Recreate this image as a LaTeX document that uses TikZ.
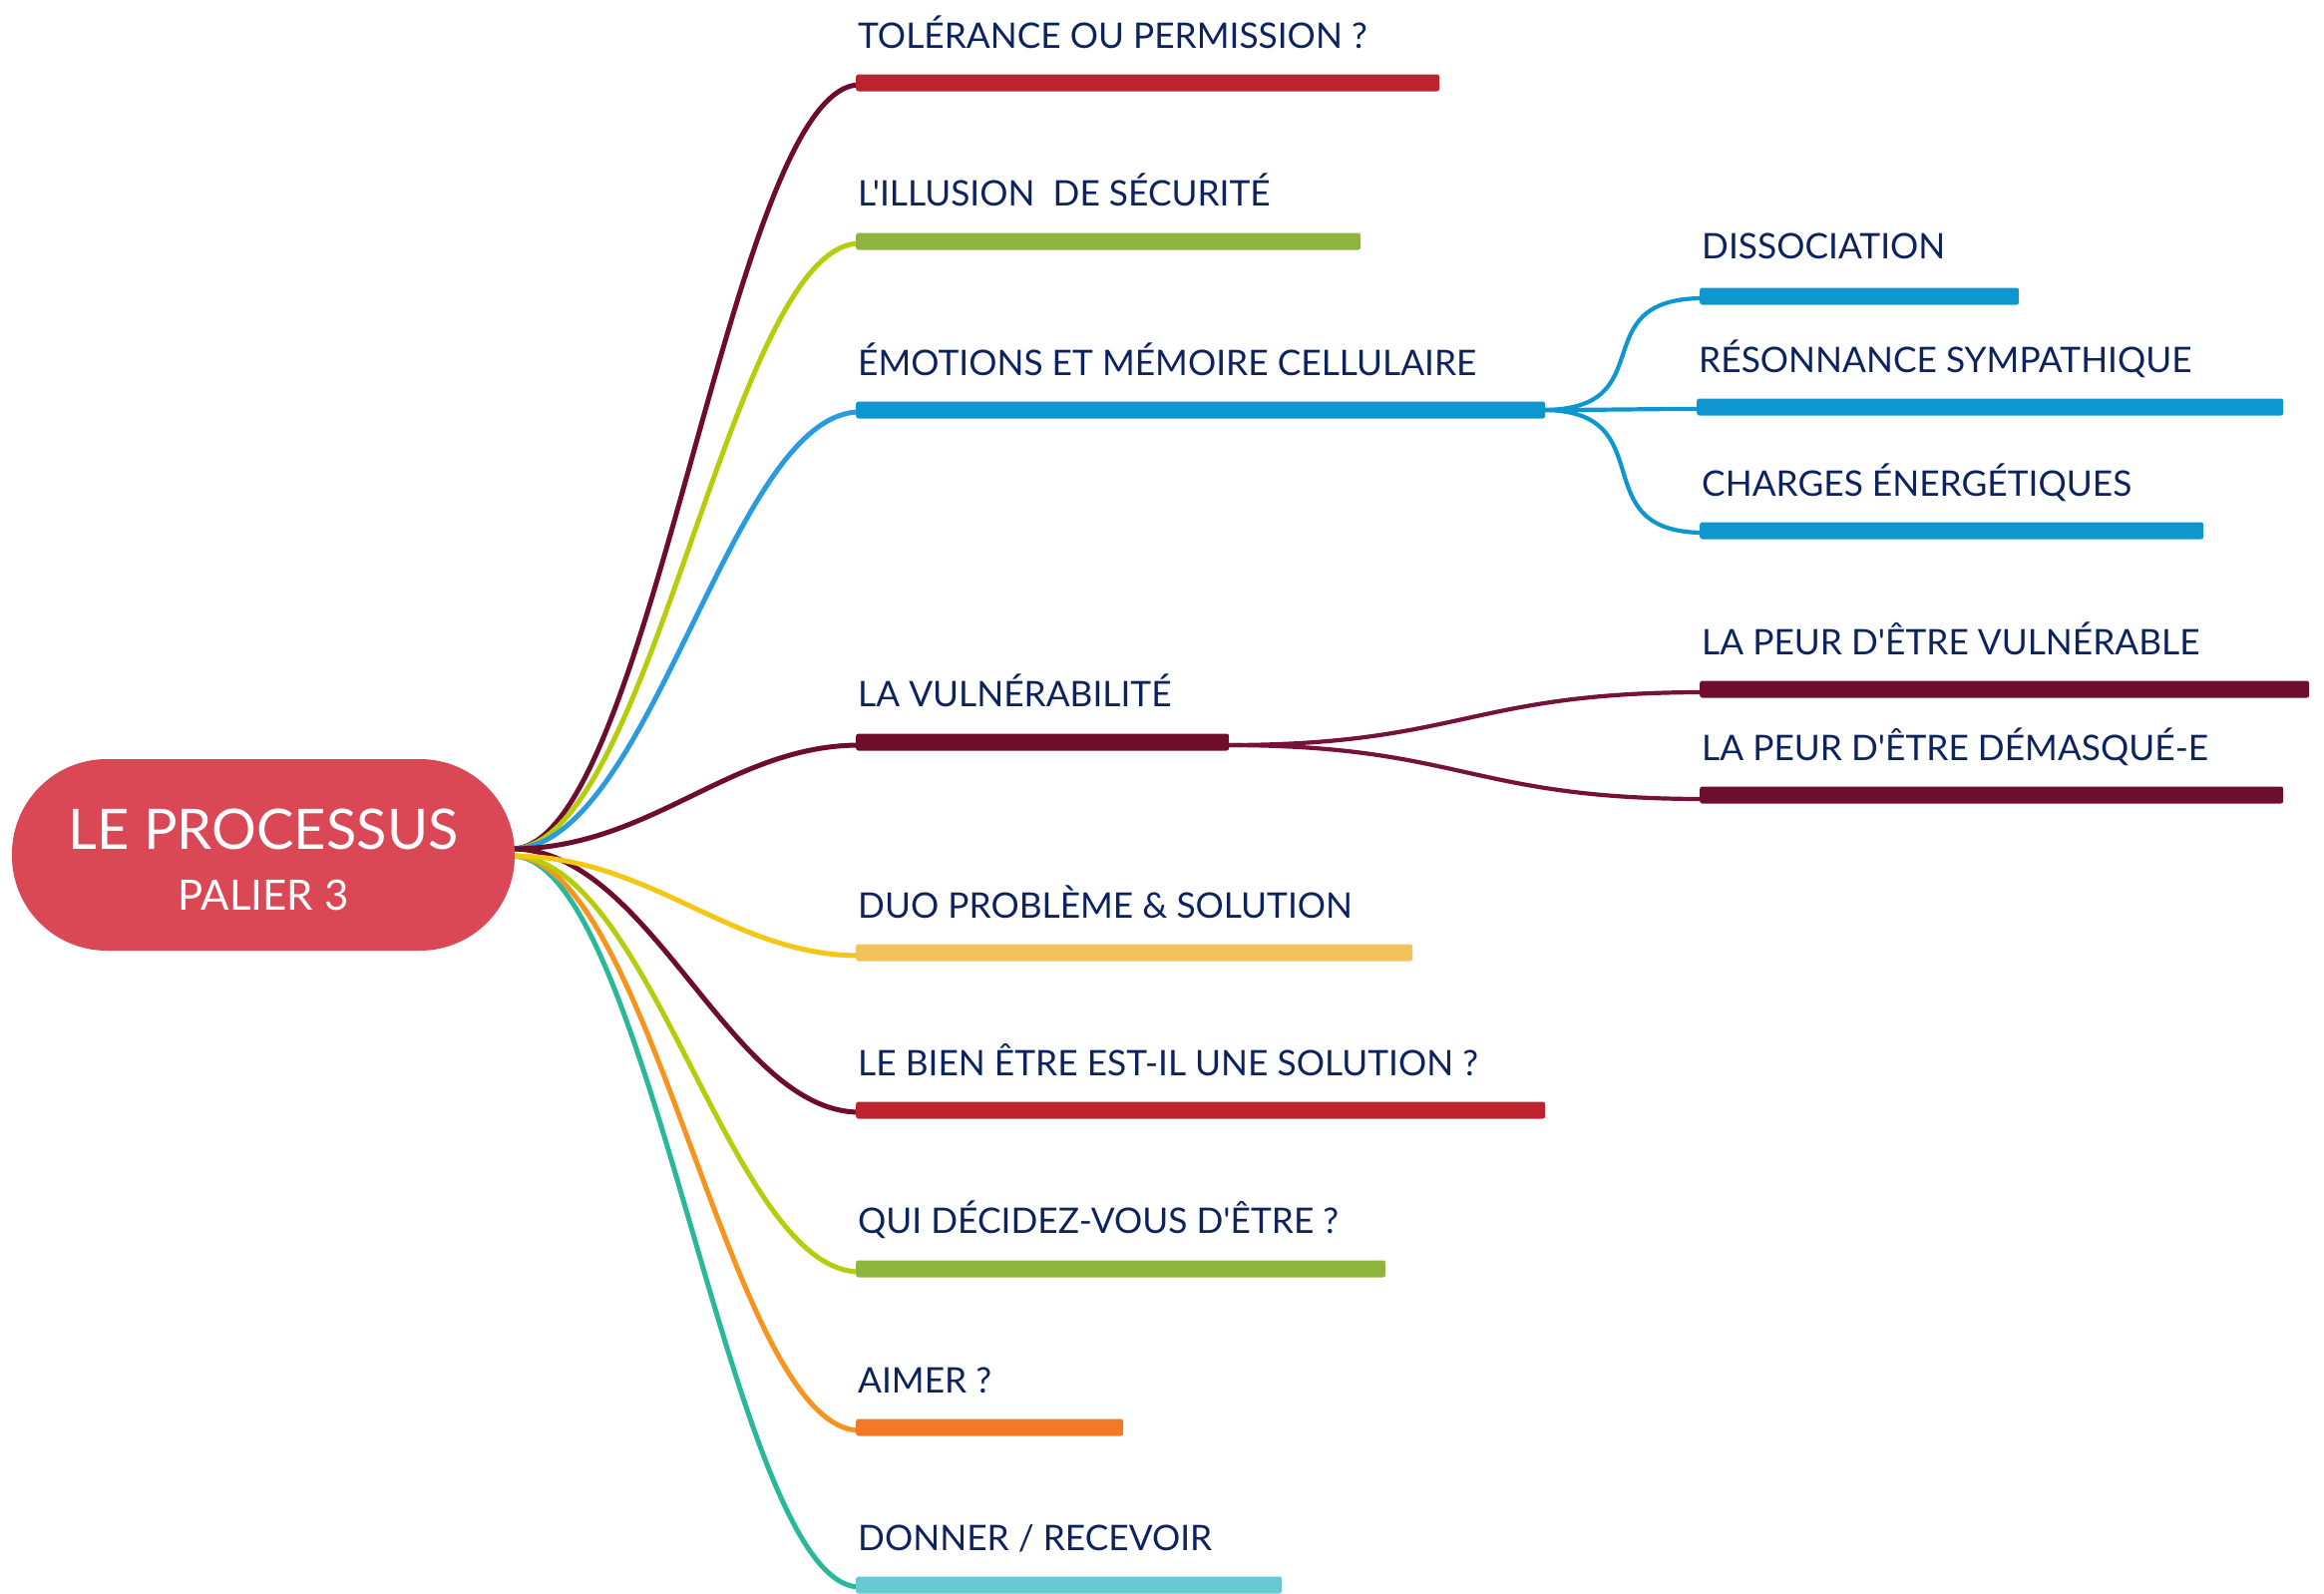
\documentclass[tikz,border=0pt]{standalone}
\usepackage{fontspec}
\newfontfamily\lato{Lato}
\usetikzlibrary{backgrounds}
\definecolor{navy}{HTML}{0D2360}
\definecolor{rootred}{HTML}{D94854}
\definecolor{cmaroon}{HTML}{6E0C2E}
\definecolor{csub}{HTML}{76113A}
\definecolor{clime}{HTML}{B5CD0B}
\definecolor{cblue}{HTML}{2B9BDF}
\definecolor{cyellow}{HTML}{F6C614}
\definecolor{corange}{HTML}{F8931E}
\definecolor{cteal}{HTML}{29B99A}
\definecolor{bred}{HTML}{BE2430}
\definecolor{bgreen}{HTML}{8FB53F}
\definecolor{bblue}{HTML}{0E96CF}
\definecolor{bmaroon}{HTML}{6D0E2D}
\definecolor{bgold}{HTML}{F2C35A}
\definecolor{borange}{HTML}{F37A24}
\definecolor{bcyan}{HTML}{66C9D4}
\tikzset{
  lbl/.style={font=\lato\fontsize{35.3}{40}\selectfont, text=navy, inner sep=0pt, anchor=base west},
  bar/.style={rectangle, rounded corners=2.5pt, inner sep=0pt, minimum height=17pt, anchor=west, draw=none},
  link/.style={line width=5pt, line cap=round},
  sublink/.style={line width=4.2pt, line cap=round},
  rootbox/.style={rectangle, rounded corners=95pt, fill=rootred, minimum width=504pt, minimum height=192pt, inner sep=0pt},
  roottxt/.style={text=white, inner sep=0pt, anchor=base}
}
\begin{document}
\begin{tikzpicture}[x=1pt,y=-1pt]
\useasboundingbox (0,0) rectangle (2330,1598);
% central node
\node[rootbox] (root) at (264,857) {};
\node[roottxt, font=\lato\fontsize{56}{60}\selectfont] (rt1) at (264,851) {LE PROCESSUS};
\node[roottxt, font=\lato\fontsize{42}{46}\selectfont] (rt2) at (264,912) {PALIER 3};
\coordinate (oU) at (513,851);
\coordinate (oL) at (513,858);
% main bars
\node[bar, fill=bred,    minimum width=585pt] (b1) at (858,83)   {};
\node[bar, fill=bgreen,  minimum width=506pt] (b2) at (858,242)  {};
\node[bar, fill=bblue,   minimum width=691pt] (b3) at (858,411)  {};
\node[bar, fill=bmaroon, minimum width=374pt] (b4) at (858,744)  {};
\node[bar, fill=bgold,   minimum width=558pt] (b5) at (858,955)  {};
\node[bar, fill=bred,    minimum width=691pt] (b6) at (858,1113) {};
\node[bar, fill=bgreen,  minimum width=531pt] (b7) at (858,1272) {};
\node[bar, fill=borange, minimum width=268pt] (b8) at (858,1431) {};
\node[bar, fill=bcyan,   minimum width=427pt] (b9) at (858,1589) {};
% main labels
\node[lbl] (t1) at (860,48)   {TOLÉRANCE OU PERMISSION ?};
\node[lbl] (t2) at (860,206)  {L'ILLUSION\ \ DE SÉCURITÉ};
\node[lbl] (t3) at (860,376)  {ÉMOTIONS ET MÉMOIRE CELLULAIRE};
\node[lbl] (t4) at (860,708)  {LA VULNÉRABILITÉ};
\node[lbl] (t5) at (860,920)  {DUO PROBLÈME \& SOLUTION};
\node[lbl] (t6) at (860,1078) {LE BIEN ÊTRE EST-IL UNE SOLUTION ?};
\node[lbl] (t7) at (860,1236) {QUI DÉCIDEZ-VOUS D'ÊTRE ?};
\node[lbl] (t8) at (860,1396) {AIMER ?};
\node[lbl] (t9) at (860,1554) {DONNER / RECEVOIR};
% sub bars
\node[bar, fill=bblue,   minimum width=320pt] (s1) at (1704,297) {};
\node[bar, fill=bblue,   minimum width=588pt] (s2) at (1701,408) {};
\node[bar, fill=bblue,   minimum width=505pt] (s3) at (1704,532) {};
\node[bar, fill=bmaroon, minimum width=611pt] (s4) at (1704,691) {};
\node[bar, fill=bmaroon, minimum width=585pt] (s5) at (1704,797) {};
% sub labels
\node[lbl] (u1) at (1706,259) {DISSOCIATION};
\node[lbl] (u2) at (1703,373) {RÉSONNANCE SYMPATHIQUE};
\node[lbl] (u3) at (1706,497) {CHARGES ÉNERGÉTIQUES};
\node[lbl] (u4) at (1706,656) {LA PEUR D'ÊTRE VULNÉRABLE};
\node[lbl] (u5) at (1706,762) {LA PEUR D'ÊTRE DÉMASQUÉ-E};
% connectors
\begin{scope}[on background layer]
\draw[link, cmaroon] (oU) .. controls +(140,0) and +(-130,0) .. ([shift={(4,2)}]b1.west);
\draw[link, clime]   (oU) .. controls +(140,0) and +(-130,0) .. ([shift={(4,2)}]b2.west);
\draw[link, cblue]   (oU) .. controls +(140,0) and +(-130,0) .. ([shift={(4,2)}]b3.west);
\draw[link, cmaroon] (oU) .. controls +(140,0) and +(-130,0) .. ([shift={(4,3)}]b4.west);
\draw[link, cteal]   (oL) .. controls +(140,0) and +(-130,0) .. ([shift={(4,2)}]b9.west);
\draw[link, corange] (oL) .. controls +(140,0) and +(-130,0) .. ([shift={(4,3)}]b8.west);
\draw[link, clime]   (oL) .. controls +(140,0) and +(-130,0) .. ([shift={(4,3)}]b7.west);
\draw[link, cmaroon] (oU) .. controls +(140,0) and +(-130,0) .. ([shift={(4,2)}]b6.west);
\draw[link, cyellow] (oL) .. controls +(140,0) and +(-130,0) .. ([shift={(4,3)}]b5.west);
% sub connectors
\draw[sublink, bblue] ([shift={(-3,0)}]b3.east) .. controls +(124,0) and +(-124,0) .. ([shift={(4,2)}]s1.west);
\draw[sublink, bblue] ([shift={(-3,0)}]b3.east) .. controls +(60,0) and +(-60,0) .. ([shift={(4,2)}]s2.west);
\draw[sublink, bblue] ([shift={(-3,0)}]b3.east) .. controls +(124,0) and +(-124,0) .. ([shift={(4,2)}]s3.west);
\draw[sublink, csub] ([shift={(-3,3)}]b4.east) .. controls +(236,0) and +(-236,0) .. ([shift={(4,3)}]s4.west);
\draw[sublink, csub] ([shift={(-3,3)}]b4.east) .. controls +(236,0) and +(-236,0) .. ([shift={(4,4)}]s5.west);
\end{scope}
\end{tikzpicture}
\end{document}
